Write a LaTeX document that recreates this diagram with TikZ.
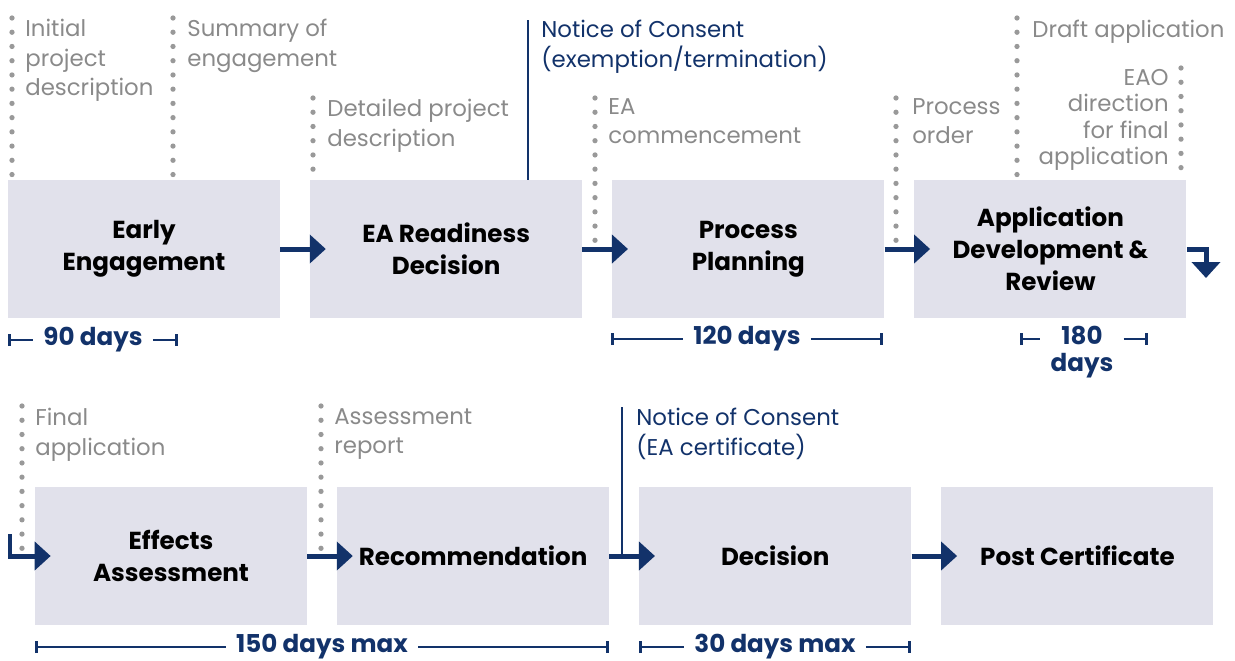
\documentclass[tikz,border=0pt]{standalone}
\usepackage{fontspec}
\setmainfont{Poppins}
\usepackage{xcolor}
\usepackage{tikz}
\usetikzlibrary{positioning,arrows.meta,calc}
\definecolor{navy}{HTML}{12326A}
\definecolor{boxgray}{HTML}{E1E1EB}
\definecolor{notegray}{HTML}{8A8A8A}
\definecolor{dotgray}{HTML}{999999}

\begin{document}
\begin{tikzpicture}[
    x=0.02cm, y=-0.02cm,
    node distance=0.59cm,
    box/.style={rectangle, fill=boxgray, minimum width=5.44cm, minimum height=2.76cm, align=center, text=black, font=\fontsize{14}{18.1}\selectfont\bfseries},
    arrow/.style={-{Triangle[length=0.32cm, width=0.56cm]}, draw=navy, line width=0.1cm, shorten >=-0.32cm},
    note/.style={inner sep=0pt, anchor=north west, align=left, text=notegray, font=\fontsize{13}{16.7}\selectfont},
    consent/.style={note, text=navy},
    milestone/.style={draw=dotgray, line width=3pt, line cap=round, dash pattern=on 0pt off 8.1pt},
    notice/.style={draw=navy, line width=1.7pt},
    span/.style={draw=navy, line width=1.5pt},
    days/.style={text=navy, align=center, inner sep=5.7pt, font=\fontsize{14}{15.3}\selectfont\bfseries}
]
    \useasboundingbox (0,0) rectangle (1235,660);

    \node[box] (early) at (144,249) {Early\\Engagement};
    \node[box, right=of early] (ready) {EA Readiness\\Decision};
    \node[box, right=of ready] (planning) {Process\\Planning};
    \node[box, right=of planning] (appdev) {Application\\Development \&\\Review};
    \node[box] (effects) at (171,556) {Effects\\Assessment};
    \node[box, right=of effects] (recommend) {Recommendation};
    \node[box, right=of recommend] (decision) {Decision};
    \node[box, right=of decision] (postcert) {Post Certificate};

    \coordinate (drop) at (1206,278);
    \coordinate (rise) at (10,534);
    \draw[arrow] (early) -- (ready);
    \draw[arrow] (ready) -- (planning);
    \draw[arrow] (planning) -- (appdev);
    \draw[arrow, shorten >=0pt] (appdev.east) -| (drop);
    \draw[arrow] (rise) |- (effects.west);
    \draw[arrow] (effects) -- (recommend);
    \draw[arrow] (recommend) -- (decision);
    \draw[arrow] (decision) -- (postcert);

    \node[note] (initial) at (25,19) {Initial\\project\\description};
    \node[note] (summary) at (187,19) {Summary of\\engagement};
    \node[note] (detailed) at (327,99) {Detailed project\\description};
    \node[consent] (exempt) at (541,20) {Notice of Consent\\(exemption/termination)};
    \node[note] (commence) at (608,98) {EA\\commencement};
    \node[note] (order) at (912,98) {Process\\order};
    \node[note] (draft) at (1032,20) {Draft application};
    \node[note, anchor=north east, align=right, font=\fontsize{13}{15}\selectfont] (direction) at (1169,69) {EAO\\direction\\for final\\application};
    \node[note] (final) at (35,408) {Final\\application};
    \node[note] (report) at (334,408) {Assessment\\report};
    \node[consent] (certificate) at (636,408) {Notice of Consent\\(EA certificate)};

    \coordinate (m1) at (12,18);
    \coordinate (m2) at (173,18);
    \coordinate (m3) at (313,98);
    \coordinate (m4) at (528,20);
    \coordinate (m5) at (595,98);
    \coordinate (m6) at (896,98);
    \coordinate (m7) at (1017,18);
    \coordinate (m8) at (1181,68);
    \coordinate (m9) at (22,406);
    \coordinate (m10) at (321,406);
    \coordinate (m11) at (622,407);
    \draw[milestone] (m1) -- (m1 |- early.north);
    \draw[milestone] (m2) -- (m2 |- early.north);
    \draw[milestone] (m3) -- (m3 |- ready.north);
    \draw[notice] (m4) -- (m4 |- ready.north);
    \draw[milestone] (m5) -- (m5 |- planning.west);
    \draw[milestone] (m6) -- (m6 |- appdev.west);
    \draw[milestone] (m7) -- (m7 |- appdev.north);
    \draw[milestone] (m8) -- (m8 |- appdev.north);
    \draw[milestone] (m9) -- (m9 |- effects.west);
    \draw[milestone] (m10) -- (m10 |- recommend.west);
    \draw[notice] (m11) -- (m11 |- decision.west);

    \node[days] (d90) at (93,340) {90 days};
    \node[days] (d120) at (747,339) {120 days};
    \node[days] (d180) at (1082,352) {180\\days};
    \node[days] (d150) at (322,647) {150 days max};
    \node[days] (d30) at (775,647) {30 days max};
    \coordinate (d90a) at (8,340);
    \coordinate (d90b) at (178,340);
    \coordinate (d120a) at (611,339);
    \coordinate (d120b) at (883,339);
    \coordinate (d180a) at (1020,339);
    \coordinate (d180b) at (1148,339);
    \coordinate (d150a) at (35,647);
    \coordinate (d150b) at (609,647);
    \coordinate (d30a) at (639,647);
    \coordinate (d30b) at (911,647);
    \foreach \d in {d90,d120,d180,d150,d30} {
        \draw[span, {Bar[width=0.24cm]}-] (\d a) -- (\d a -| \d.west);
        \draw[span, -{Bar[width=0.24cm]}] (\d a -| \d.east) -- (\d b);
    }
\end{tikzpicture}
\end{document}
